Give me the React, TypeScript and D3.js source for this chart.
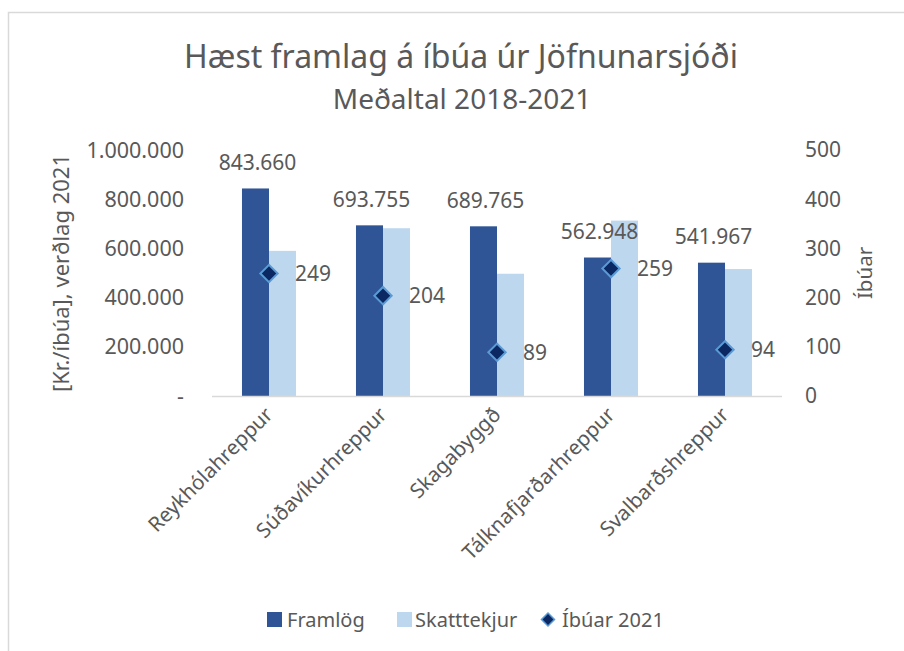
import React from 'react';
import * as d3 from 'd3';

// data
const categories = ['Reykhólahreppur', 'Súðavíkurhreppur', 'Skagabyggð', 'Tálknafjarðarhreppur', 'Svalbarðshreppur'];
const framlog = [843660, 693755, 689765, 562948, 541967];
const skatttekjur = [590000, 682000, 497000, 713000, 516000];
const ibuar = [249, 204, 89, 259, 94];
const leftTicks = [0, 200000, 400000, 600000, 800000, 1000000];
const rightTicks = [0, 100, 200, 300, 400, 500];

const W = 904;
const H = 651;
const FONT = '"Noto Sans", "Open Sans", sans-serif';
const TEXT = '#595959';
const DARK = '#2F5597';
const LIGHT = '#BDD7EE';
const MARKER = '#0B2862';
const MARKER_STROKE = '#5B9BD5';

const plot = { left: 212, right: 782, top: 150, bottom: 396 };

const fmt = (v: number) => (v === 0 ? '-' : d3.format(',')(v).replace(/,/g, '.'));

export default function App() {
  const x = d3.scaleBand<string>()
    .domain(categories)
    .range([plot.left, plot.right])
    .paddingInner(0.526)
    .paddingOuter(0.263);
  const xSub = d3.scaleBand<string>().domain(['f', 's']).range([0, x.bandwidth()]);
  const yL = d3.scaleLinear().domain([0, 1000000]).range([plot.bottom, plot.top]);
  const yR = d3.scaleLinear().domain([0, 500]).range([plot.bottom, plot.top]);
  const diamond = d3.symbol().type(d3.symbolSquare).size(150)();
  const center = (c: string) => (x(c) ?? 0) + x.bandwidth() / 2;

  return (
    <svg width={W} height={H} style={{ position: 'absolute', left: 0, top: 0 }} fontFamily={FONT}>
      <rect x={8.5} y={12.5} width={1000} height={1000} fill="#fff" stroke="#d9d9d9" strokeWidth={1.5} />

      <text x={461} y={68} textAnchor="middle" fontSize={32} fill={TEXT}>
        Hæst framlag á íbúa úr Jöfnunarsjóði
      </text>
      <text x={462} y={109} textAnchor="middle" fontSize={28} fill={TEXT}>
        Meðaltal 2018-2021
      </text>

      {/* left axis */}
      {leftTicks.map((t) => (
        <text key={t} x={184} y={yL(t)} dy="0.35em" textAnchor="end" fontSize={21.5} fill={TEXT}>
          {fmt(t)}
        </text>
      ))}
      {/* right axis */}
      {rightTicks.map((t) => (
        <text key={t} x={805} y={yR(t)} dy="0.35em" textAnchor="start" fontSize={21} fill={TEXT}>
          {t}
        </text>
      ))}
      <text transform={`translate(69,${(plot.top + plot.bottom) / 2}) rotate(-90)`} textAnchor="middle" fontSize={22} fill={TEXT}>
        [Kr./íbúa], verðlag 2021
      </text>
      <text transform={`translate(872,${(plot.top + plot.bottom) / 2}) rotate(-90)`} textAnchor="middle" fontSize={20.5} fill={TEXT}>
        Íbúar
      </text>

      {/* bars */}
      {categories.map((c, i) => (
        <g key={c}>
          <rect x={(x(c) ?? 0) + (xSub('f') ?? 0)} y={yL(framlog[i])} width={xSub.bandwidth()} height={plot.bottom - yL(framlog[i])} fill={DARK} />
          <rect x={(x(c) ?? 0) + (xSub('s') ?? 0)} y={yL(skatttekjur[i])} width={xSub.bandwidth()} height={plot.bottom - yL(skatttekjur[i])} fill={LIGHT} />
        </g>
      ))}

      <line x1={plot.left} x2={plot.right} y1={plot.bottom + 0.5} y2={plot.bottom + 0.5} stroke="#d9d9d9" strokeWidth={1.5} />

      {/* bar labels */}
      {categories.map((c, i) => (
        <text
          key={c}
          x={(x(c) ?? 0) + (xSub('f') ?? 0) + xSub.bandwidth() / 2 + 2}
          y={yL(framlog[i]) - 18.5}
          textAnchor="middle"
          fontSize={21}
          fill={TEXT}
        >
          {fmt(framlog[i])}
        </text>
      ))}

      {/* Íbúar markers */}
      {categories.map((c, i) => (
        <g key={c}>
          <path
            d={diamond ?? ''}
            transform={`translate(${center(c)},${yR(ibuar[i])}) rotate(45)`}
            fill={MARKER}
            stroke={MARKER_STROKE}
            strokeWidth={2}
          />
          <text x={center(c) + 26} y={yR(ibuar[i])} dy="0.35em" fontSize={21} fill={TEXT}>
            {ibuar[i]}
          </text>
        </g>
      ))}

      {/* category labels */}
      {categories.map((c) => (
        <text
          key={c}
          transform={`translate(${center(c) + 5},${plot.bottom + 20}) rotate(-45)`}
          textAnchor="end"
          fontSize={20.5}
          fill={TEXT}
        >
          {c}
        </text>
      ))}

      {/* legend */}
      <g fontSize={20} fill={TEXT}>
        <rect x={267} y={612} width={15} height={15} fill={DARK} />
        <text x={287} y={619.5} dy="0.35em">Framlög</text>
        <rect x={397} y={612} width={15} height={15} fill={LIGHT} />
        <text x={415} y={619.5} dy="0.35em">Skatttekjur</text>
        <path d={diamond ?? ''} transform="translate(548,619.5) rotate(45) scale(0.75)" fill={MARKER} stroke={MARKER_STROKE} strokeWidth={2} />
        <text x={562} y={619.5} dy="0.35em">Íbúar 2021</text>
      </g>
    </svg>
  );
}
